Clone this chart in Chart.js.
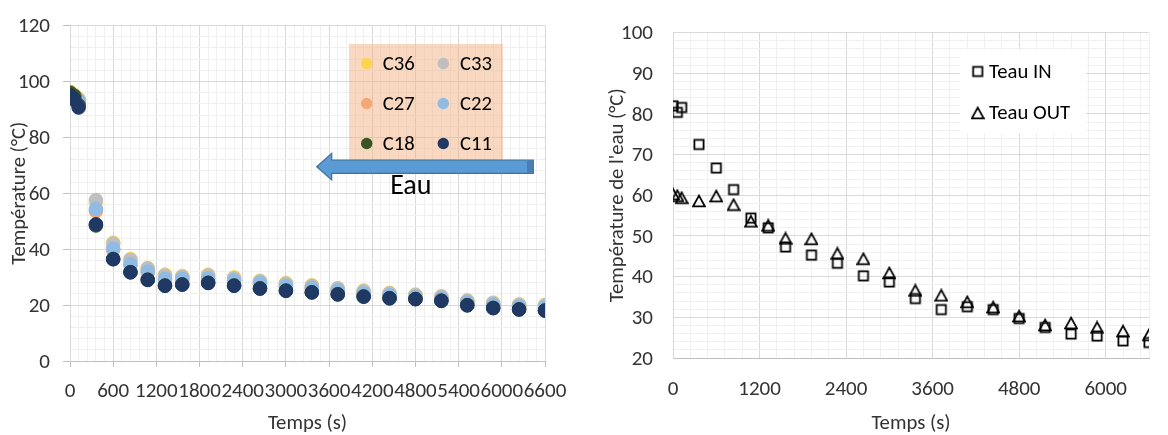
<!DOCTYPE html>
<html><head><meta charset="utf-8">
<script src="https://cdn.jsdelivr.net/npm/chart.js@4"></script>
<style>
html,body{margin:0;padding:0;background:#fff;overflow:hidden}
#wrap{position:relative;width:1168px;height:435px;background:#fff}
#c1{position:absolute;left:0;top:0}
#c2{position:absolute;left:580px;top:0}
</style></head><body>
<div id="wrap"><canvas id="c1" width="580" height="435"></canvas><canvas id="c2" width="588" height="435"></canvas></div>
<script>
// ---------- DATA ----------
const times = [0,60,120,360,600,840,1080,1320,1560,1920,2280,2640,3000,3360,3720,4080,4440,4800,5160,5520,5880,6240,6600];

const C36 = [96.3,95.3,93.8,56.8,42.3,36.5,33.3,30.9,30.4,30.9,29.9,28.7,27.9,27.1,26.1,25.2,24.4,23.8,23.2,21.7,20.9,20.3,20.1];
const C33 = [96.0,95.0,93.5,57.6,42.0,36.2,33.1,30.6,30.2,30.6,29.6,28.5,27.7,26.9,25.9,25.0,24.2,23.6,23.0,21.5,20.7,20.1,19.9];
const C27 = [95.6,94.6,93.2,53.6,39.8,34.3,31.7,29.1,29.1,29.3,28.5,27.6,26.6,25.9,25.0,24.0,23.4,22.8,22.2,20.8,19.9,19.3,19.0];
const C22 = [95.5,94.5,93.0,54.4,40.1,34.6,32.0,29.4,29.4,29.6,28.8,27.9,26.9,26.2,25.3,24.2,23.6,23.0,22.4,21.0,20.1,19.5,19.2];
const C18 = [96.0,94.8,91.5,48.5,36.5,31.8,29.1,27.0,27.4,28.0,27.0,26.0,25.2,24.6,23.9,23.1,22.5,22.2,21.6,20.0,19.0,18.5,18.1];
const C11 = [95.0,93.5,90.7,48.9,36.4,31.7,29.0,26.9,27.3,27.9,26.9,25.9,25.1,24.5,23.8,23.0,22.4,22.1,21.5,19.9,18.9,18.4,18.0];
const leftNames = ['C36','C33','C27','C22','C18','C11'];

const teauIn  = [82.0,80.4,81.6,72.5,66.7,61.4,54.4,52.0,47.3,45.3,43.3,40.2,38.7,34.6,31.9,32.6,31.9,29.7,27.5,25.9,25.4,24.2,23.8];
const teauOut = [60.3,59.9,59.4,58.6,59.8,57.7,53.6,52.6,49.4,49.3,45.7,44.4,40.9,36.6,35.4,33.8,32.5,30.3,28.1,28.6,27.5,26.6,25.7];
const rightNames = ['Teau IN','Teau OUT'];

const leftXMajor  = [0,600,1200,1800,2400,3000,3600,4200,4800,5400,6000,6600];
const leftYMajor  = [0,20,40,60,80,100,120];
const rightXMajor = [0,1200,2400,3600,4800,6000];
const rightYMajor = [20,30,40,50,60,70,80,90,100];

// ---------- STYLE ----------
const FONT = 'Carlito, Calibri, Lato, sans-serif';
const FS = 20.7;
const TXT = '#333333';
const MAJ = '#D9D9D9', MIN = '#F0F0F0', AXIS = '#BFBFBF';
const leftColors = ['#FFD44D','#BFBFBF','#F4A878','#8FBBE5','#375623','#1F3864'];
Chart.defaults.font.family = FONT;

function subTicks(majors, n, max) {
  const out = [];
  for (let i = 0; i < majors.length - 1; i++) {
    const a = majors[i], b = majors[i+1], st = (b - a) / n;
    for (let k = 0; k < n; k++) out.push(Math.round((a + k*st)*1000)/1000);
  }
  let last = majors[majors.length-1];
  out.push(last);
  const st = (majors[1]-majors[0])/n;
  let v = last + st;
  while (v < max - 1e-9) { out.push(v); v += st; }
  if (out[out.length-1] !== max) out.push(max);
  return out;
}

const fontF = {family: FONT, size: 21, lineHeight: 1.2};

function axis(cfg) {
  const ticksArr = subTicks(cfg.majors, 5, cfg.max);
  return {
    type: 'linear', min: cfg.min, max: cfg.max, position: cfg.position,
    afterBuildTicks: s => { s.ticks = ticksArr.map(v => ({value: v})); },
    afterFit: s => { if (cfg.width != null) s.width = cfg.width; if (cfg.height != null) s.height = cfg.height; },
    ticks: {
      autoSkip: false, maxRotation: 0, minRotation: 0, padding: cfg.pad, color: TXT, font: fontF,
      labelOffset: cfg.labelOffset || 0,
      callback: v => cfg.majors.includes(v) ? String(v) : ''
    },
    grid: {
      color: c => (c.tick && cfg.majors.includes(c.tick.value)) ? MAJ : MIN,
      drawTicks: cfg.tickLen > 0, tickLength: cfg.tickLen || 0,
      tickColor: c => (c.tick && cfg.majors.includes(c.tick.value)) ? AXIS : 'rgba(0,0,0,0)'
    },
    border: {color: cfg.borderColor, width: 1},
    title: {display: true, text: cfg.title, color: TXT, font: {family: FONT, size: FS, lineHeight: cfg.titleLH},
      padding: cfg.titlePad}
  };
}

// ---------- LEFT CHART ----------
const leftDeco = {
  id: 'leftDeco',
  afterDatasetsDraw(chart) {
    const ctx = chart.ctx;
    ctx.save();
    ctx.fillStyle = 'rgba(244,177,131,0.5)';
    ctx.fillRect(349, 44, 154, 121);
    const cx = [366.7, 443.3], tx = [382.7, 460], base = [70, 110, 150], my = [63.5, 103.5, 143.5];
    ctx.font = FS + 'px ' + FONT;
    ctx.textBaseline = 'alphabetic';
    chart.data.datasets.forEach((ds, i) => {
      const r = Math.floor(i/2), c = i % 2;
      ctx.beginPath(); ctx.arc(cx[c], my[r], 5.7, 0, Math.PI*2);
      ctx.fillStyle = ds.backgroundColor; ctx.fill();
      ctx.fillStyle = '#000'; ctx.fillText(ds.label, tx[c], base[r]);
    });
    ctx.beginPath();
    ctx.moveTo(316.7, 166.7); ctx.lineTo(331.7, 153.3); ctx.lineTo(331.7, 160);
    ctx.lineTo(533.3, 160); ctx.lineTo(533.3, 173.3); ctx.lineTo(331.7, 173.3);
    ctx.lineTo(331.7, 180); ctx.closePath();
    ctx.fillStyle = '#5B9BD5'; ctx.fill();
    ctx.lineWidth = 1.2; ctx.strokeStyle = '#41719C'; ctx.stroke();
    ctx.fillStyle = '#4A7DB4'; ctx.fillRect(527, 160.6, 6, 12.1);
    ctx.font = '28px ' + FONT; ctx.fillStyle = '#000'; ctx.textAlign = 'center';
    ctx.fillText('Eau', 410.8, 194);
    ctx.restore();
  }
};

const leftSeries = [C36, C33, C27, C22, C18, C11];
new Chart(document.getElementById('c1'), {
  type: 'scatter',
  data: {
    datasets: leftSeries.map((arr, i) => ({
      label: leftNames[i],
      data: times.map((t, k) => ({x: t, y: arr[k]})),
      backgroundColor: leftColors[i], borderColor: leftColors[i], borderWidth: 1,
      pointRadius: 6.8, pointHoverRadius: 6.8, order: leftSeries.length - 1 - i
    }))
  },
  options: {
    responsive: false, animation: false, events: [],
    layout: {padding: {left: 0, top: 17, right: 35, bottom: 0}},
    plugins: {legend: {display: false}, tooltip: {enabled: false}},
    scales: {
      x: axis({min: 0, max: 6600, majors: leftXMajor, position: 'bottom', height: 74, pad: 12, tickLen: 6,
        borderColor: AXIS, title: 'Temps (s)', titleLH: 1, titlePad: {top: 0, bottom: 1}}),
      y: axis({min: 0, max: 120, majors: leftYMajor, position: 'left', width: 70, pad: 13, tickLen: 7, labelOffset: 1.5,
        borderColor: MAJ, title: 'Température (°C)', titleLH: 1.2, titlePad: {top: 7.6, bottom: 0}})
    }
  },
  plugins: [leftDeco]
});

// ---------- RIGHT CHART ----------
function markerCanvas(kind) {
  const c = document.createElement('canvas'); c.width = 14; c.height = 14;
  const g = c.getContext('2d');
  g.strokeStyle = '#000'; g.lineWidth = 1.8; g.lineJoin = 'miter';
  if (kind === 'square') { g.strokeRect(2.4, 2.4, 9.2, 9.2); }
  else { g.beginPath(); g.moveTo(7, 1.6); g.lineTo(12.9, 12.4); g.lineTo(1.1, 12.4); g.closePath(); g.stroke(); }
  return c;
}
const sqImg = markerCanvas('square'), triImg = markerCanvas('triangle');

const rightDeco = {
  id: 'rightDeco',
  afterDatasetsDraw(chart) {
    const ctx = chart.ctx;
    ctx.save();
    ctx.fillStyle = '#fff';
    ctx.fillRect(380, 50, 126, 83);
    ctx.font = FS + 'px ' + FONT; ctx.fillStyle = '#000'; ctx.textBaseline = 'alphabetic';
    const imgs = [sqImg, triImg], my = [71.5, 113], base = [78.2, 119.3];
    chart.data.datasets.forEach((ds, i) => {
      ctx.drawImage(imgs[i], 397.7 - 7, my[i] - 7);
      ctx.fillText(ds.label, 409, base[i]);
    });
    ctx.restore();
  }
};

new Chart(document.getElementById('c2'), {
  type: 'scatter',
  data: {
    datasets: [teauIn, teauOut].map((arr, i) => ({
      label: rightNames[i],
      data: times.map((t, k) => ({x: t, y: arr[k]})),
      pointStyle: i === 0 ? sqImg : triImg, pointRadius: 7, borderWidth: 0
    }))
  },
  options: {
    responsive: false, animation: false, events: [],
    layout: {padding: {left: 0, top: 25, right: 10, bottom: 0}},
    plugins: {legend: {display: false}, tooltip: {enabled: false}},
    scales: {
      x: axis({min: 0, max: 6600, majors: rightXMajor, position: 'bottom', height: 77, pad: 19, tickLen: 0,
        borderColor: AXIS, title: 'Temps (s)', titleLH: 1, titlePad: {top: 0, bottom: 1}}),
      y: axis({min: 20, max: 100, majors: rightYMajor, position: 'left', width: 93, pad: 20, tickLen: 0, labelOffset: 1.5,
        borderColor: MAJ, title: "Température de l'eau (°C)", titleLH: 1.2, titlePad: {top: 25, bottom: 0}})
    }
  },
  plugins: [rightDeco]
});
</script>
</body></html>
